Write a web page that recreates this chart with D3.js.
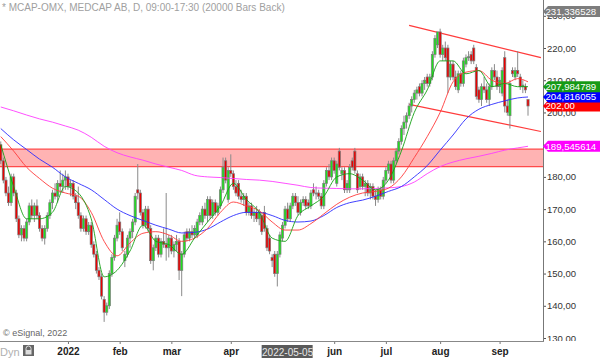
<!DOCTYPE html>
<html>
<head>
<meta charset="utf-8">
<script src="https://cdn.jsdelivr.net/npm/d3@7"></script>
<style>
body { margin: 0; background: #fff; }
svg { display: block; font-family: Arial, "Liberation Sans", sans-serif; }
</style>
</head>
<body>
<svg id="chart" width="600" height="358"></svg>
<script>
// daily bars, 2021-11-24 .. 2022-09-16 (index = trading day)
var opens = [
190,185,179,175,172,180,175,167,162,164, 161,166,171,168,171,168,164,161,164,168,
172,175,174,178,177,179,180,177,178,174, 172,168,164,167,163,165,159,156,151,149,
142,138,140,150,155,161,166,163,154,156, 161,163,166,176,175,169,165,170,164,154,
158,161,156,160,159,158,161,157,159,160, 151,156,163,161,163,162,162,166,166,170,
168,173,168,172,169,171,176,185,173,182, 181,177,178,174,173,174,169,171,168,169,
167,168,169,164,161,155,156,150,156,161, 165,170,167,171,174,172,169,172,173,172,
171,176,175,175,174,171,178,182,180,185, 178,188,181,182,176,176,185,188,181,177,
180,177,178,175,177,174,173,176,174,179, 182,184,179,185,188,191,195,197,199,202,
204,206,208,206,209,211,209,211,218,221, 225,218,220,220,211,215,211,207,212,209,
215,217,218,220,214,207,204,208,207,204, 208,213,211,208,206,217,202,199,213,211,
213,211,208,208,204];
var highs = [
191,186,180,177,181,181,176,168,165,165, 167,172,173,172,173,169,165,165,169,173,
176,178,179,182,181,182,181,179,179,175, 177,169,168,168,166,166,160,157,152,150,
143,141,151,156,162,167,169,164,157,162, 164,167,175,184,176,170,171,171,165,159,
162,162,161,164,175,162,162,160,162,161, 157,163,164,164,165,165,167,169,171,172,
174,174,173,173,172,177,186,186,183,187, 182,179,179,176,175,175,172,172,170,171,
170,169,171,165,162,156,157,157,163,166, 171,172,172,175,175,174,173,174,174,173,
176,178,177,176,175,179,183,184,186,186, 185,189,183,183,179,184,186,189,182,181,
181,179,179,178,178,176,177,177,180,183, 185,185,186,189,192,196,199,200,203,205,
207,208,209,210,211,212,212,219,224,225, 226,221,222,221,216,216,213,213,213,217,
218,219,219,221,215,208,209,211,209,209, 214,215,213,211,214,219,204,210,214,214,
219,212,210,209,204];
var lows = [
184,178,174,171,171,174,166,161,160,160, 160,165,167,166,167,163,160,159,163,167,
170,173,172,175,175,176,176,174,173,170, 167,163,163,162,162,158,155,150,148,142,
135,137,139,149,154,160,162,157,152,155, 158,161,165,173,168,164,164,163,153,151,
157,155,155,158,154,155,156,155,157,148, 143,155,160,160,161,161,161,165,165,167,
166,167,167,168,168,170,175,178,172,180, 176,174,173,172,171,168,168,167,166,166,
165,162,163,157,156,152,149,146,155,160, 164,166,166,170,171,168,168,171,170,170,
170,174,173,173,170,170,177,179,179,181, 177,182,179,175,175,175,182,181,175,176,
176,174,174,173,173,171,172,173,173,178, 181,178,178,184,187,190,193,195,198,200,
203,204,205,205,207,208,208,210,217,220, 217,216,216,206,210,210,207,206,208,208,
214,216,215,215,204,203,202,206,203,202, 207,210,207,206,205,200,199,195,211,210,
211,207,206,206,199];
var closes = [
185,179,175,172,180,175,167,162,164,161, 166,171,168,171,168,164,161,164,168,172,
175,174,178,177,179,180,177,178,174,172, 168,164,167,163,165,159,156,151,149,143,
138,140,150,155,161,165,163,158,156,161, 163,166,174,175,169,165,170,164,154,158,
161,156,160,159,158,161,157,159,160,151, 156,162,161,163,162,164,166,168,170,168,
173,168,172,169,171,176,183,179,182,181, 177,175,174,173,174,169,171,168,169,167,
169,163,164,158,157,154,150,156,162,165, 170,167,171,174,172,169,172,173,171,171,
175,175,175,174,171,178,182,180,185,182, 184,183,182,176,178,183,183,182,176,180,
177,178,175,177,174,173,176,174,179,182, 184,179,185,188,191,195,197,199,202,204,
206,207,206,209,210,209,211,218,223,225, 218,220,217,211,215,211,208,212,209,216,
217,217.3,216,216,205,204,208,207,204,208, 213,211,208,210,213,202,200,209,212,213,
212,208,208.5,207,202];

// moving averages, read every 5th bar
var maBars = [0,5,10,15,20,25,30,35,40,45,50,55,60,65,70,75,80,85,90,95,100,
  105,110,115,120,125,130,135,140,145,150,155,160,165,170,175,180,185,190,195,200,204];
var maFast = [190,177,167,167,169,177,175,167,149,151,157,165,160,159,156,161,166,171,178,173,169,
  161,160,168,171,174,180,181,179,176,179,188,200,207,216,216,212,213,208,209,208,208];
var maMid = [192.5,188,183,179.5,176.5,175,174,169,160,155.5,159.5,162.5,163,162,160,161,164,169,172.2,171,169.5,
  166,163.5,163.5,165.5,168.5,171.5,173.7,175,175.5,176.5,180,186,192.5,200,209.5,212.5,213,210,209,210.5,209.5];
var maSlow = [195,191.5,188.5,185.5,183,180,178,176,173,170,168,166.5,165,163.8,162.6,162.8,163.8,166,168,169,169,
  168,166.5,166,166.3,168,170.5,172,172.8,174,175.5,177,180,183.5,188.3,193,198,201,202.5,203.6,204.5,204.8];
var maLong = [201.7,200.5,199.2,198,197,195.8,194.5,192.3,189.5,187.5,186.2,185.2,184,183,182,180.5,180,179.8,179.5,179.2,179,
  178.6,178,177.4,176.7,176.5,176.4,176.3,176.3,176.4,176.6,177,178.4,181,183.2,184.6,185.6,186.4,187.3,188.3,189,189.5];

// drawn objects
var zoneTop = 188.6, zoneBottom = 183.2;
var channelBars = [158, 209];
var channelUpper = [227.0, 217.0];
var channelLower = [202.5, 194.1];

var priceTicks = [130, 140, 150, 160, 170, 180, 190, 200, 210, 220, 230];
var coveredTicks = [190];   // hidden under the 189,54 tag
var monthBars = [26, 46, 66, 89, 129, 149, 170, 193];
var monthLabels = ["2022", "feb", "mar", "apr", "jun", "jul", "aug", "sep"];
var cursorBar = 111, cursorLabel = "2022-05-05";

var tagValues = [231.336528, 189.545614, 202.00, 204.816055, 207.984789];
var tagLabels = ["231,336528", "189,545614", "202,00", "204,816055", "207,984789"];
var tagColors = ["#7d7d7d", "#ff00ff", "#ff0000", "#0000ff", "#169a16"];

var svg = d3.select("#chart");
var plotW = 543, plotH = 341;

var x = d3.scaleLinear().domain([-0.3, 209.8]).range([0, plotW]);
var y = d3.scaleLinear().domain([129.07, 234.9]).range([plotH, 0]);

var defs = svg.append("defs");
defs.append("clipPath").attr("id", "plotclip")
  .append("rect").attr("width", plotW).attr("height", plotH);
defs.append("clipPath").attr("id", "axisclip")
  .append("rect").attr("x", -2).attr("width", 70).attr("height", plotH);

var plot = svg.append("g").attr("clip-path", "url(#plotclip)");

// support / resistance zone
plot.append("rect")
  .attr("x", 0).attr("width", plotW)
  .attr("y", y(zoneTop)).attr("height", y(zoneBottom) - y(zoneTop))
  .style("fill", "#ffb3b3");
plot.selectAll(".zoneedge").data([zoneTop, zoneBottom]).enter().append("line")
  .attr("x1", 0).attr("x2", plotW)
  .attr("y1", function(d) { return y(d); }).attr("y2", function(d) { return y(d); })
  .style("stroke", "#ff4a4a").style("stroke-width", 1.2);

// channel
plot.selectAll(".channel").data([channelUpper, channelLower]).enter().append("line")
  .attr("x1", x(channelBars[0])).attr("x2", x(channelBars[1]))
  .attr("y1", function(d) { return y(d[0]); }).attr("y2", function(d) { return y(d[1]); })
  .style("stroke", "#ff3b3b").style("stroke-width", 1.2);

// candles
var candle = plot.selectAll(".candle").data(d3.range(closes.length)).enter().append("g");
candle.append("line")
  .attr("x1", function(i) { return x(i); }).attr("x2", function(i) { return x(i); })
  .attr("y1", function(i) { return y(highs[i]); }).attr("y2", function(i) { return y(lows[i]); })
  .style("stroke", "#8a8a8a").style("stroke-width", 1);
candle.append("rect")
  .attr("x", function(i) { return x(i) - 1.1; })
  .attr("width", 2.2)
  .attr("y", function(i) { return y(Math.max(opens[i], closes[i])); })
  .attr("height", function(i) { return Math.max(1, Math.abs(y(opens[i]) - y(closes[i]))); })
  .style("fill", function(i) {
    if (closes[i] == opens[i]) return "#999";
    return closes[i] > opens[i] ? "#1fe01f" : "#ea0000";
  })
  .style("stroke", "#7b7b7b").style("stroke-width", 0.7);

// moving averages
var maLine = d3.line()
  .x(function(d, k) { return x(maBars[k]); })
  .y(function(d) { return y(d); })
  .curve(d3.curveMonotoneX);
plot.selectAll(".ma").data([[maLong, "#ff3cff"], [maSlow, "#2b2bff"], [maMid, "#ff3a3a"], [maFast, "#14a014"]])
  .enter().append("path")
  .attr("d", function(d) { return maLine(d[0]); })
  .style("fill", "none")
  .style("stroke", function(d) { return d[1]; })
  .style("stroke-width", 0.9);

// right price axis
var yAxis = d3.axisRight(y)
  .tickValues(priceTicks)
  .tickSize(3).tickSizeOuter(0).tickPadding(1)
  .tickFormat(function(d) {
    return coveredTicks.indexOf(d) >= 0 ? "" : d3.format(".2f")(d).replace(".", ",");
  });
var ya = svg.append("g").attr("transform", "translate(" + plotW + ",0)");
ya.append("g").attr("clip-path", "url(#axisclip)").call(yAxis);
ya.selectAll("text").style("font-size", "9.5px").style("fill", "#333");
ya.selectAll(".tick line").style("stroke", "#555");
ya.select(".domain").remove();
svg.append("line").attr("x1", plotW + 0.5).attr("x2", plotW + 0.5).attr("y1", 0).attr("y2", plotH + 1)
  .style("stroke", "#777");

// bottom time axis
var xAxis = d3.axisBottom(x)
  .tickValues(monthBars)
  .tickSize(3).tickSizeOuter(0).tickPadding(4)
  .tickFormat(function(d, k) { return monthLabels[k]; });
var xa = svg.append("g").attr("transform", "translate(0," + plotH + ")").call(xAxis);
xa.selectAll("text").style("font-size", "10px").style("font-weight", "bold").style("fill", "#222");
xa.selectAll(".tick line").style("stroke", "#777");
xa.select(".domain").remove();
svg.append("line").attr("x1", 0).attr("x2", plotW + 1).attr("y1", plotH + 0.5).attr("y2", plotH + 0.5)
  .style("stroke", "#888");

// cursor date box
svg.append("rect")
  .attr("x", x(cursorBar) - 26).attr("y", 345).attr("width", 51).attr("height", 13)
  .style("fill", "#5a5a5a");
svg.append("text")
  .attr("x", x(cursorBar)).attr("y", 355.5)
  .attr("text-anchor", "middle")
  .style("font-size", "10px").style("fill", "#e8e8e8")
  .text(cursorLabel);

// price tags
var tag = svg.selectAll(".tag").data(d3.range(tagValues.length)).enter().append("g")
  .attr("transform", function(k) { return "translate(" + plotW + "," + y(tagValues[k]) + ")"; });
tag.append("path")
  .attr("d", "M0,0L5,-5.5H57V5.5H5Z")
  .style("fill", function(k) { return tagColors[k]; });
tag.append("text")
  .attr("x", 2.5).attr("dy", "0.36em")
  .style("font-size", "9.6px").style("fill", "#fff")
  .text(function(k) { return tagLabels[k]; });

// header and footer texts
svg.append("text").attr("x", 2).attr("y", 11)
  .style("font-size", "10px").style("fill", "#a0a0a0")
  .text("* MCAP-OMX, MEDCAP AB, D, 09:00-17:30 (20000 Bars Back)");
svg.append("text").attr("x", 3).attr("y", 336)
  .style("font-size", "9px").style("fill", "#666")
  .text("\u00a9 eSignal, 2022");
svg.append("text").attr("x", 0).attr("y", 356)
  .style("font-size", "11px").style("fill", "#b0b0b0")
  .text("Dyn");

// lock button
svg.append("rect").attr("x", 23).attr("y", 345).attr("width", 11).attr("height", 11).style("fill", "#666");
svg.append("path").attr("d", "M26,350V348.5a2.5,2.5 0 0 1 5,0V350").style("fill", "none").style("stroke", "#ddd").style("stroke-width", 1);
svg.append("rect").attr("x", 25.5).attr("y", 350).attr("width", 6).attr("height", 4.5).style("fill", "#ddd");
</script>
</body>
</html>
